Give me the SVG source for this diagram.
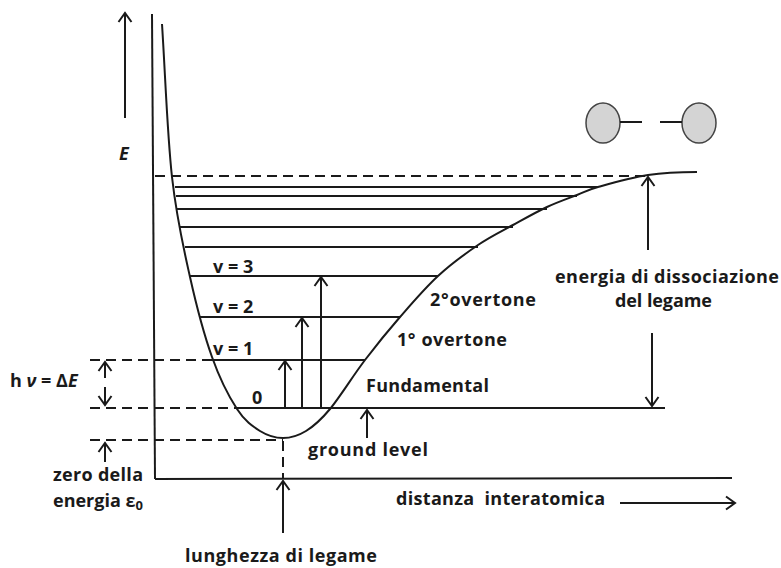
<svg xmlns="http://www.w3.org/2000/svg" width="781" height="568" viewBox="0 0 781 568">
<style>
.ln{stroke:#1a1a1a;stroke-width:2;fill:none}
.dash{stroke:#1a1a1a;stroke-width:2;fill:none;stroke-dasharray:10 6}
.arr{stroke:#1a1a1a;stroke-width:2;fill:none;marker-end:url(#ah)}
.t{font-family:"Open Sans","Liberation Sans",sans-serif;font-weight:bold;font-size:18px;fill:#1a1a1a}
.atom{fill:#d4d4d4;stroke:#444;stroke-width:1.5}
</style>
<defs>
<marker id="ah" markerUnits="userSpaceOnUse" markerWidth="20" markerHeight="20" viewBox="-12 -10 14 20" refX="0" refY="0" orient="auto">
<path d="M-9,-6.5 L0,0 L-9,6.5" fill="none" stroke="#1a1a1a" stroke-width="2"/>
</marker>
</defs>
<rect width="781" height="568" fill="#fff"/>
<g id="axes">
<path class="ln" d="M152,14 L155,479"/>
<path class="ln" d="M155,479 L732,478"/>
</g>
<g id="potential-curve">
<path class="ln" d="M162,24 C165.3,75 167.3,134.8 172,177 C176.7,219.2 183.3,247 190,277 C196.7,307 204.2,335 212,357 C219.8,379 229,396.7 237,409 C245,421.3 252.3,426.2 260,431 C267.7,435.8 275.3,438 283,438 C290.7,438 298.2,435.8 306,431 C313.8,426.2 320.2,420.8 330,409 C339.8,397.2 353.3,375.3 365,360 C376.7,344.7 387.8,331 400,317 C412.2,303 425,288 438,276 C451,264 465.5,253.5 478,245 C490.5,236.5 501.5,231.3 513,225 C524.5,218.7 536.3,212 547,207 C557.7,202 568.5,198.3 577,195 C585.5,191.7 586.2,190.3 598,187 C609.8,183.7 631.5,177.5 648,175 C664.5,172.5 680.7,172 697,172"/>
</g>
<g id="levels">
<path class="ln" d="M175,187 L598,187"/>
<path class="ln" d="M176,196 L577,196"/>
<path class="ln" d="M177,209 L547,209"/>
<path class="ln" d="M180,227 L513,227"/>
<path class="ln" d="M185,247 L478,247"/>
<path class="ln" d="M190,276 L438,276"/>
<path class="ln" d="M200,317 L400,317"/>
<path class="ln" d="M212,360 L365,360"/>
<path class="ln" d="M238,408 L665,408"/>
</g>
<g id="dashed-guides">
<path class="dash" d="M155,176 L648,176"/>
<path class="dash" d="M90,360 L212,360"/>
<path class="dash" d="M90,408 L238,408"/>
<path class="dash" d="M90,440 L283,440"/>
<path class="dash" d="M283,441 L283,478" stroke-dasharray="8 5"/>
</g>
<g id="molecule">
<ellipse class="atom" cx="603" cy="123" rx="17" ry="20"/>
<ellipse class="atom" cx="699" cy="123" rx="17" ry="20"/>
<path class="ln" d="M620,122 L642,122 M660,122 L682,122"/>
</g>
<g id="connectors">
<path class="arr" d="M125,118 L125,13"/>
<path class="arr" d="M105,378 L105,362"/>
<path class="arr" d="M105,387 L105,405"/>
<path class="arr" d="M105,462 L105,443"/>
<path class="arr" d="M283,533 L283,481"/>
<path class="arr" d="M367,438 L367,410"/>
<path class="arr" d="M285,408 L285,361"/>
<path class="arr" d="M302,408 L302,318"/>
<path class="arr" d="M321,408 L321,277"/>
<path class="arr" d="M648,250 L648,177"/>
<path class="arr" d="M652,333 L652,406"/>
<path class="arr" d="M620,503 L735,503"/>
</g>
<g id="labels">
<text class="t" x="119" y="160" font-style="italic">E</text>
<text class="t" x="213" y="273" font-size="17">v = 3</text>
<text class="t" x="213" y="313" font-size="17">v = 2</text>
<text class="t" x="213" y="355" font-size="17">v = 1</text>
<text class="t" x="252" y="404" font-size="17">0</text>
<text class="t" x="10" y="387" font-size="17">h <tspan font-style="italic">ν</tspan> = Δ<tspan font-style="italic">E</tspan></text>
<text class="t" x="53" y="481" textLength="90">zero della</text>
<text class="t" x="53" y="507">energia ε<tspan font-size="13" dy="3">0</tspan></text>
<text class="t" x="185" y="562" textLength="192">lunghezza di legame</text>
<text class="t" x="308" y="456" textLength="120">ground level</text>
<text class="t" x="366" y="392" textLength="123">Fundamental</text>
<text class="t" x="397" y="346" textLength="110">1° overtone</text>
<text class="t" x="430" y="306" textLength="106">2°overtone</text>
<text class="t" x="555" y="283" textLength="224">energia di dissociazione</text>
<text class="t" x="615" y="307" textLength="97">del legame</text>
<text class="t" x="396" y="505" textLength="209" style="white-space:pre">distanza  interatomica</text>
</g>
</svg>
